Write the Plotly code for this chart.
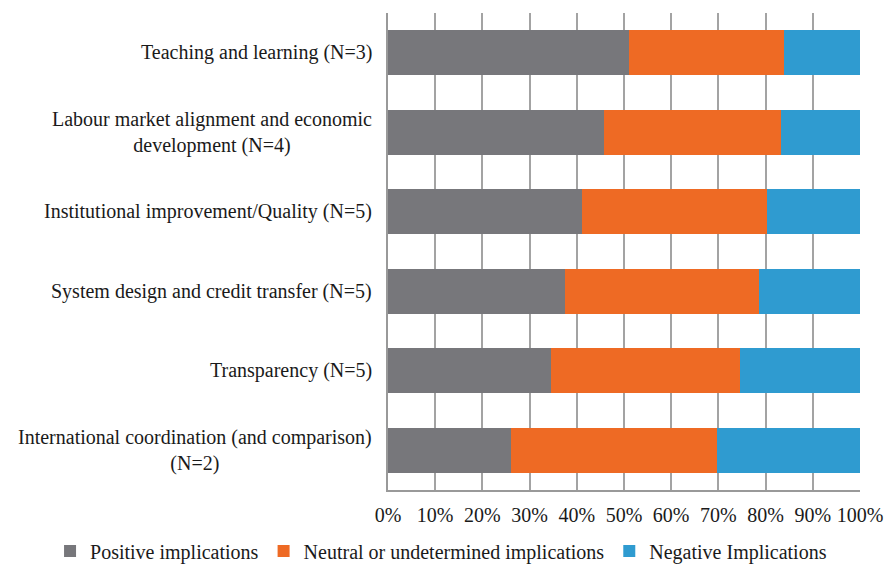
import plotly.graph_objects as go

categories = [
    "Teaching and learning (N=3)",
    "Labour market alignment and economic<br>development (N=4)",
    "Institutional improvement/Quality (N=5)",
    "System design and credit transfer (N=5)",
    "Transparency (N=5)",
    "International coordination (and comparison)<br>(N=2)",
]
positive = [51.1, 45.8, 41.0, 37.4, 34.5, 26.0]
neutral = [32.7, 37.4, 39.2, 41.1, 40.1, 43.6]
negative = [16.2, 16.8, 19.8, 21.5, 25.4, 30.4]
series_names = ["Positive implications", "Neutral or undetermined implications", "Negative Implications"]
colors = ["#77777b", "#ee6a24", "#2f9bd0"]
tick_vals = [0, 10, 20, 30, 40, 50, 60, 70, 80, 90, 100]
tick_text = ["0%", "10%", "20%", "30%", "40%", "50%", "60%", "70%", "80%", "90%", "100%"]

FONT = "Liberation Serif, Times New Roman, DejaVu Serif, serif"
FS = 20
fig = go.Figure()
for name, vals, col in zip(series_names, [positive, neutral, negative], colors):
    fig.add_trace(go.Bar(
        y=categories, x=vals, name=name, orientation="h",
        marker=dict(color=col, line=dict(width=0)),
    ))

for cat in categories:
    fig.add_annotation(
        x=0, xref="paper", y=cat, yref="y", text=cat,
        xanchor="right", yanchor="middle", align="center",
        xshift=-14, showarrow=False,
        font=dict(family=FONT, size=FS, color="#1a1a1a"),
    )

fig.update_layout(
    width=886, height=564,
    margin=dict(l=388, r=26, t=13, b=74, autoexpand=False),
    barmode="stack", bargap=0.43,
    plot_bgcolor="white", paper_bgcolor="white",
    font=dict(family=FONT, size=FS, color="#1a1a1a"),
    xaxis=dict(
        range=[0, 100], tickvals=tick_vals, ticktext=tick_text,
        showgrid=True, gridcolor="#a3a3a3", gridwidth=1.5,
        showline=True, linecolor="#999999", linewidth=1.5,
        ticks="", ticklabelstandoff=6, zeroline=False,
        tickfont=dict(family=FONT, size=FS, color="#1a1a1a"),
    ),
    yaxis=dict(
        categoryorder="array", categoryarray=categories,
        autorange="reversed", showticklabels=False,
        showline=True, linecolor="#999999", linewidth=1.5,
        showgrid=False, ticks="",
    ),
    legend=dict(
        orientation="h", xref="paper", yref="paper",
        x=-0.716, y=-0.128, xanchor="left", yanchor="middle",
        font=dict(family=FONT, size=FS, color="#1a1a1a"),
        itemwidth=30, traceorder="normal",
    ),
    showlegend=True,
)

fig.write_html("out.html", config={"displayModeBar": False},
               post_script="document.body.style.margin='0';")
